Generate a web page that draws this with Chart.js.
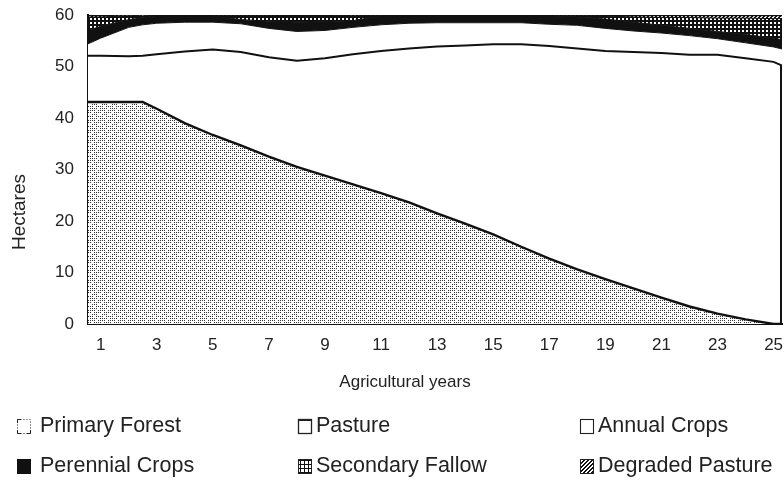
<!DOCTYPE html>
<html><head><meta charset="utf-8">
<script src="https://cdn.jsdelivr.net/npm/chart.js@4"></script>
<style>html,body{margin:0;padding:0;background:#fff}#wrap{width:784px;height:480px;position:relative}</style>
</head><body><div id="wrap"><canvas id="c" width="784" height="480"></canvas></div>
<script>
// ---- data (hectares per agricultural year) ----
const years = [0.55, 1, 2, 2.5, 3, 4, 5, 6, 7, 8, 9, 10, 11, 12, 13, 14, 15, 16, 17, 18, 19, 20, 21, 22, 23, 24, 25, 25.3];
const primaryForest   = [43.1, 43.1, 43.1, 43.1, 41.8, 39.0, 36.7, 34.7, 32.5, 30.5, 28.8, 27.1, 25.4, 23.6, 21.5, 19.5, 17.4, 15.0, 12.7, 10.6, 8.7, 6.9, 5.1, 3.4, 2.0, 0.9, 0.0, 0.0];
const pasture         = [9.0, 9.0, 8.9, 9.0, 10.6, 13.9, 16.6, 18.1, 19.3, 20.6, 22.8, 25.3, 27.6, 29.9, 32.4, 34.6, 36.9, 39.3, 41.3, 42.9, 44.3, 45.9, 47.5, 48.9, 50.3, 50.7, 50.9, 50.2];
const annualCrops     = [2.3, 3.4, 5.6, 6.0, 6.0, 5.7, 5.3, 5.5, 5.6, 5.7, 5.4, 5.2, 5.1, 4.9, 4.6, 4.4, 4.2, 4.2, 4.2, 4.5, 4.4, 4.1, 3.9, 3.7, 3.1, 3.0, 2.9, 3.2];
const perennialCrops  = [2.6, 2.3, 1.5, 1.35, 1.45, 1.25, 1.25, 0.8, 1.4, 1.8, 1.7, 1.3, 1.75, 1.45, 1.35, 1.35, 1.35, 1.35, 1.65, 1.6, 1.8, 1.7, 1.5, 1.4, 1.4, 1.6, 1.7, 1.8];
const secondaryFallow = [2.6, 1.8, 0.75, 0.5, 0.0, 0.0, 0.0, 0.75, 1.05, 1.15, 1.05, 1.05, 0.0, 0.0, 0.0, 0.0, 0.0, 0.0, 0.0, 0.25, 0.6, 1.0, 1.5, 2.1, 2.6, 3.2, 3.8, 4.1];
const degradedPasture = [0.4, 0.4, 0.3, 0.3, 0.15, 0.15, 0.15, 0.15, 0.15, 0.15, 0.15, 0.15, 0.15, 0.15, 0.15, 0.15, 0.15, 0.15, 0.15, 0.15, 0.2, 0.4, 0.5, 0.5, 0.6, 0.6, 0.7, 0.7];
const seriesNames = ['Primary Forest', 'Pasture', 'Annual Crops', 'Perennial Crops', 'Secondary Fallow', 'Degraded Pasture'];
const yearTicks = [1, 3, 5, 7, 9, 11, 13, 15, 17, 19, 21, 23, 25];
const hectareTicks = [0, 10, 20, 30, 40, 50, 60];
const xTitle = 'Agricultural years';
const yTitle = 'Hectares';

// ---- fill patterns ----
const canvas = document.getElementById('c');
const mainCtx = canvas.getContext('2d');
function makePattern(w, h, draw) {
  const c = document.createElement('canvas'); c.width = w; c.height = h;
  const x = c.getContext('2d'); x.fillStyle = '#fff'; x.fillRect(0, 0, w, h); draw(x);
  return mainCtx.createPattern(c, 'repeat');
}
const stippleRows = [
  'x.x.x...x.',
  '..........',
  'x...x.x.x.',
  '..........',
  '..x.x.x...',
  '..........',
  'x.x...x.x.',
  '..........',
  'x.x.x.x...',
  '..........'
];
const stipple = makePattern(10, 10, x => {
  x.fillStyle = '#333';
  stippleRows.forEach((r, j) => { for (let i = 0; i < r.length; i++) if (r[i] === 'x') x.fillRect(i, j, 1, 1); });
});
const gridPat = makePattern(4, 4, x => { x.fillStyle = '#111'; x.fillRect(0, 0, 4, 2); x.fillRect(0, 0, 2, 4); });
const hatchPat = makePattern(4, 4, x => { x.fillStyle = '#111'; for (let i = 0; i < 4; i++) { x.fillRect(3 - i, i, 1, 1); x.fillRect((4 - i) % 4, i, 1, 1); } });
const iconGrid = makePattern(4, 4, x => { x.fillStyle = '#111'; x.fillRect(0, 0, 4, 1); x.fillRect(0, 0, 1, 4); });

const toPts = arr => arr.map((v, i) => ({ x: years[i], y: v }));
const FONT = "'Liberation Sans', Arial, Helvetica, sans-serif";
const fills = [stipple, '#ffffff', '#ffffff', '#111111', gridPat, hatchPat];
const widths = [2.4, 2, 1, 1, 1, 2.5];
const seriesData = [primaryForest, pasture, annualCrops, perennialCrops, secondaryFallow, degradedPasture];

const datasets = seriesData.map((arr, i) => ({
  label: seriesNames[i], data: toPts(arr), backgroundColor: fills[i], borderColor: '#111',
  borderWidth: widths[i], pointRadius: 0, tension: 0, fill: i === 0 ? 'origin' : '-1'
}));

// right edge closing line, axis titles, custom legend
const extras = {
  id: 'extras',
  afterDatasetsDraw(chart) {
    const ctx = chart.ctx; const meta = chart.getDatasetMeta(1);
    const last = meta.data[meta.data.length - 1];
    ctx.save(); ctx.strokeStyle = '#111'; ctx.lineWidth = 2;
    ctx.beginPath(); ctx.moveTo(last.x - 1, last.y); ctx.lineTo(last.x - 1, chart.scales.y.getPixelForValue(0)); ctx.stroke();
    ctx.restore();
  },
  afterDraw(chart) {
    const ctx = chart.ctx;
    ctx.save();
    ctx.fillStyle = '#222'; ctx.textBaseline = 'middle'; ctx.textAlign = 'center';
    ctx.font = '17px ' + FONT;
    ctx.fillText(xTitle, 405, 382);
    ctx.save(); ctx.translate(20, 212); ctx.rotate(-Math.PI / 2);
    ctx.font = '19px ' + FONT; ctx.fillText(yTitle, 0, 0); ctx.restore();

    const colIcon = [17, 298, 580], colText = [40, 316, 598], rowY = [426, 466];
    ctx.font = '21.5px ' + FONT; ctx.textAlign = 'left';
    seriesNames.forEach((name, i) => {
      const c = i % 3, r = Math.floor(i / 3);
      const x = colIcon[c], y = rowY[r] - 7, w = 13, h = 14;
      ctx.save();
      if (i === 0) {
        ctx.strokeStyle = '#222'; ctx.lineWidth = 1; ctx.setLineDash([1, 2]);
        ctx.strokeRect(x + 0.5, y + 0.5, w, h); ctx.setLineDash([]);
        ctx.beginPath(); ctx.moveTo(x + 0.5, y + 4); ctx.lineTo(x + 0.5, y + 0.5); ctx.lineTo(x + 4, y + 0.5);
        ctx.moveTo(x + 0.5, y + h - 3); ctx.lineTo(x + 0.5, y + h + 0.5); ctx.lineTo(x + 4, y + h + 0.5);
        ctx.moveTo(x + w - 3, y + h + 0.5); ctx.lineTo(x + w + 0.5, y + h + 0.5); ctx.lineTo(x + w + 0.5, y + h - 3); ctx.stroke();
      } else if (i === 1) {
        ctx.strokeStyle = '#222'; ctx.lineWidth = 1.3; ctx.strokeRect(x + 0.5, y + 0.5, w, h);
        ctx.fillStyle = '#222'; ctx.fillRect(x, y, w + 1, 2);
      } else if (i === 2) {
        ctx.strokeStyle = '#222'; ctx.lineWidth = 1.1; ctx.strokeRect(x + 0.5, y + 0.5, w, h);
      } else if (i === 3) {
        ctx.fillStyle = '#111'; ctx.fillRect(x, y, w + 1, h + 1);
      } else {
        ctx.fillStyle = i === 4 ? iconGrid : hatchPat; ctx.fillRect(x, y, w + 1, h + 1);
        ctx.strokeStyle = '#222'; ctx.lineWidth = 1; ctx.strokeRect(x + 0.5, y + 0.5, w, h);
      }
      ctx.restore();
      ctx.fillStyle = '#222';
      ctx.fillText(name, colText[c], rowY[r]);
    });
    ctx.restore();
  }
};

new Chart(canvas, {
  type: 'line',
  data: { datasets },
  options: {
    responsive: false, animation: false, devicePixelRatio: 1,
    layout: { padding: { left: 0, right: 2, top: 15, bottom: 86 } },
    plugins: { legend: { display: false }, tooltip: { enabled: false }, filler: { propagate: false } },
    scales: {
      x: {
        type: 'linear', min: 0.55, max: 25.3,
        afterBuildTicks(s) { s.ticks = yearTicks.map(v => ({ value: v })); },
        ticks: { autoSkip: false, maxRotation: 0, padding: 11, color: '#222', font: { family: FONT, size: 17 } },
        grid: { display: false, drawTicks: false },
        border: { display: true, color: '#111', width: 2 },
        title: { display: false },
        afterFit(s) { s.height = 70; s.paddingLeft = 0; s.paddingRight = 0; }
      },
      y: {
        stacked: true, min: 0, max: 60,
        afterBuildTicks(s) { s.ticks = hectareTicks.map(v => ({ value: v })); },
        ticks: { padding: 14, color: '#222', font: { family: FONT, size: 17 } },
        grid: { display: false, drawTicks: false },
        border: { display: true, color: '#111', width: 2 },
        title: { display: false },
        afterFit(s) { s.width = 88; s.paddingTop = 0; s.paddingBottom = 0; }
      }
    }
  },
  plugins: [extras]
});
</script>
</body></html>
